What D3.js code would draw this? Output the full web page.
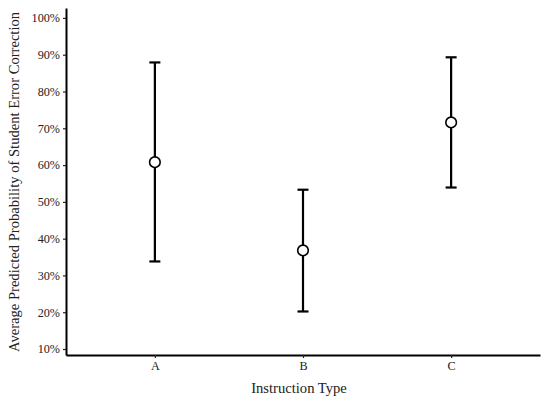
<!DOCTYPE html>
<html>
<head>
<meta charset="utf-8">
<script src="https://cdn.jsdelivr.net/npm/d3@7"></script>
<style>
  body { margin: 0; background: #fff; }
  text { font-family: "Liberation Serif", "Times New Roman", serif; fill: #222; }
</style>
</head>
<body>
<div id="chart"></div>
<script>
// Data
const categories = ["A", "B", "C"];
const estimates = [0.608, 0.368, 0.716];
const lower = [0.338, 0.202, 0.539];
const upper = [0.879, 0.533, 0.893];
const yTicks = [0.1, 0.2, 0.3, 0.4, 0.5, 0.6, 0.7, 0.8, 0.9, 1.0];

const width = 550, height = 406;
const margin = {top: 8, right: 10, bottom: 51, left: 66};
const innerW = width - margin.left - margin.right;
const innerH = height - margin.top - margin.bottom;

const svg = d3.select("#chart").append("svg")
    .attr("width", width)
    .attr("height", height)
    .append("g")
    .attr("transform", `translate(${margin.left}, ${margin.top})`);

// discrete axis with ggplot-like 0.6 expansion
const x = d3.scalePoint()
    .domain(categories)
    .range([0, innerW])
    .padding(0.6);

const y = d3.scaleLinear()
    .domain([0.0837, 1.027])
    .range([innerH, 0]);

const fmt = d3.format(".0%");

const yAxis = svg.append("g")
    .call(d3.axisLeft(y).tickValues(yTicks).tickFormat(fmt).tickSize(3).tickSizeOuter(0));
yAxis.select(".domain").attr("stroke", "#000").attr("stroke-width", 2);
yAxis.selectAll(".tick line").attr("stroke", "#222").attr("stroke-width", 1.2);
yAxis.selectAll("text").style("font-size", "12.2px").attr("x", -6)
    .style("font-family", "Liberation Serif, serif").attr("fill", "#222");

const xAxis = svg.append("g")
    .attr("transform", `translate(0, ${innerH})`)
    .call(d3.axisBottom(x).tickSize(3).tickSizeOuter(0));
xAxis.select(".domain").attr("stroke", "#000").attr("stroke-width", 2);
xAxis.selectAll(".tick line").attr("stroke", "#222").attr("stroke-width", 1.2);
xAxis.selectAll("text").style("font-size", "12.2px").attr("y", 6)
    .style("font-family", "Liberation Serif, serif").attr("fill", "#222");

const rows = categories.map((c, i) => ({cat: c, est: estimates[i], lo: lower[i], hi: upper[i]}));
const capHalf = 5.5;

const bars = svg.selectAll(".err").data(rows).enter().append("g").attr("class", "err");
bars.append("line")
    .attr("x1", d => x(d.cat)).attr("x2", d => x(d.cat))
    .attr("y1", d => y(d.lo)).attr("y2", d => y(d.hi))
    .attr("stroke", "#000").attr("stroke-width", 2.2);
bars.append("line")
    .attr("x1", d => x(d.cat) - capHalf).attr("x2", d => x(d.cat) + capHalf)
    .attr("y1", d => y(d.hi)).attr("y2", d => y(d.hi))
    .attr("stroke", "#000").attr("stroke-width", 2.2);
bars.append("line")
    .attr("x1", d => x(d.cat) - capHalf).attr("x2", d => x(d.cat) + capHalf)
    .attr("y1", d => y(d.lo)).attr("y2", d => y(d.lo))
    .attr("stroke", "#000").attr("stroke-width", 2.2);
bars.append("circle")
    .attr("cx", d => x(d.cat)).attr("cy", d => y(d.est))
    .attr("r", 5.3)
    .attr("fill", "#fff").attr("stroke", "#000").attr("stroke-width", 1.6);

// axis titles
svg.append("text")
    .attr("x", innerW / 2 - 4)
    .attr("y", innerH + 38)
    .attr("text-anchor", "middle")
    .style("font-size", "14.6px")
    .text("Instruction Type");

svg.append("text")
    .attr("transform", `translate(${19 - margin.left}, ${182 - margin.top}) rotate(-90)`)
    .attr("text-anchor", "middle")
    .style("font-size", "14.6px")
    .text("Average Predicted Probability of Student Error Correction");
</script>
</body>
</html>
